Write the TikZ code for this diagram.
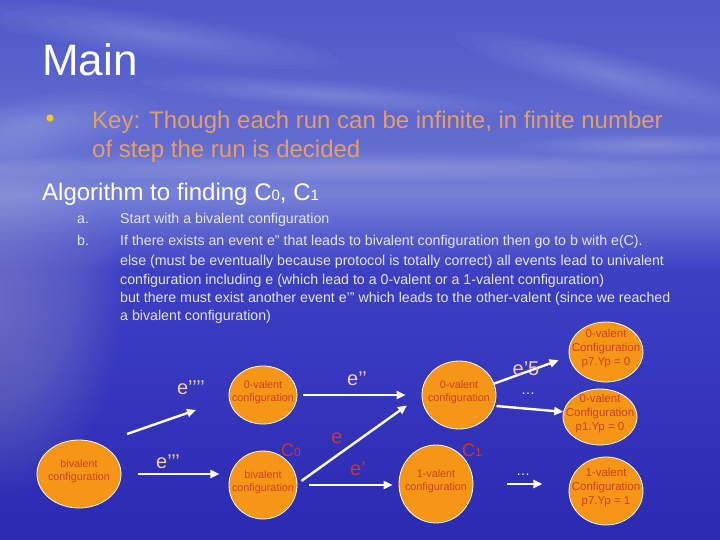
\documentclass[tikz,border=0pt]{standalone}
\usepackage{fontspec}
\setmainfont{Liberation Sans}
\usetikzlibrary{shapes.geometric,arrows.meta}

\definecolor{skytop}{RGB}{78,88,200}
\definecolor{skymid}{RGB}{98,108,208}
\definecolor{haze}{RGB}{118,128,214}
\definecolor{seamid}{RGB}{62,64,196}
\definecolor{seabot}{RGB}{42,42,178}
\definecolor{keytxt}{RGB}{228,158,105}
\definecolor{evtxt}{RGB}{240,205,180}
\definecolor{redtxt}{RGB}{200,55,50}
\definecolor{cfgfill}{RGB}{246,150,22}
\definecolor{cfgtxt}{RGB}{205,65,30}
\definecolor{listtxt}{RGB}{228,228,242}
\definecolor{dotyel}{RGB}{240,200,40}

\pgfdeclareverticalshading{skysea}{100bp}{color(0bp)=(seabot); color(25bp)=(seabot);
  color(50bp)=(seamid); color(57bp)=(haze); color(62bp)=(skymid); color(75bp)=(skytop); color(100bp)=(skytop)}

\newcommand{\inell}[1]{\smash{\makebox[0pt]{\begin{tabular}{@{}c@{}}#1\end{tabular}}}}

\tikzset{
  cfg/.style={ellipse, draw=white, line width=0.8pt, fill=cfgfill, text=cfgtxt, inner sep=0pt,
    font=\fontsize{10.8}{13.5}\selectfont},
  cfgbig/.style={cfg, font=\fontsize{11.5}{14}\selectfont},
  arr/.style={->, >={Triangle[length=9pt,width=8pt]}, draw=white, line width=2.4pt},
  evlab/.style={text=evtxt, font=\fontsize{20}{20}\selectfont, inner sep=0pt},
  redlab/.style={text=redtxt, font=\fontsize{20}{20}\selectfont, inner sep=0pt},
  dotlab/.style={text=white, font=\fontsize{14}{14}\selectfont, inner sep=0pt},
  listline/.style={anchor=base west, text=listtxt, inner sep=0pt, font=\fontsize{14.2}{16}\selectfont},
  keyline/.style={anchor=base west, text=keytxt, inner sep=0pt, font=\fontsize{24}{24}\selectfont},
}

\begin{document}
\begin{tikzpicture}[x=1pt,y=-1pt]
  \useasboundingbox (0,0) rectangle (720,540);
  \shade[shading=skysea] (0,0) rectangle (720,540); % 背景
  % 云
  \foreach \cx/\cy/\rx/\ry/\rot in {150/35/190/22/-8, 40/125/120/30/8, 330/95/190/14/-4,
      610/75/160/22/-14, 650/145/130/12/0, 360/168/420/14/0}
    \foreach \k in {1,...,9}
      \fill[white,opacity=0.022,rotate around={\rot:(\cx,\cy)}] (\cx,\cy) ellipse ({\rx*\k/9} and {\ry*\k/9});
  \foreach \r in {4,8,...,132}
    \fill[white,opacity=0.012] (-10,300) ellipse ({\r} and {\r*1.5}); % 左侧亮光

  % 标题
  \node[anchor=base west, text=white, inner sep=0pt, font=\fontsize{44}{44}\selectfont] (title) at (42,76) {Main};
  \fill[dotyel] (50,118) circle (3.6pt);
  \node[keyline] (key1) at (92,129) {Key: Though each run can be infinite, in finite number};
  \node[keyline] (key2) at (92,158) {of step the run is decided};
  \node[anchor=base west, text=white, inner sep=0pt, font=\fontsize{24}{24}\selectfont] (algo) at (42,201)
    {Algorithm to finding C{\fontsize{15}{15}\selectfont 0}, C{\fontsize{15}{15}\selectfont 1}};

  % 列表
  \node[listline] (ia) at (77,224) {a.};
  \node[listline] (ib) at (77,245) {b.};
  \node[listline] (l1) at (120,224) {Start with a bivalent configuration};
  \node[listline] (l2) at (120,245) {If there exists an event e” that leads to bivalent configuration then go to b with e(C).};
  \node[listline] (l3) at (120,265) {else (must be eventually because protocol is totally correct) all events lead to univalent};
  \node[listline] (l4) at (120,284) {configuration including e (which lead to a 0-valent or a 1-valent configuration)};
  \node[listline] (l5) at (120,302) {but there must exist another event e’” which leads to the other-valent (since we reached};
  \node[listline] (l6) at (120,320) {a bivalent configuration)};

  % 配置
  \node[cfg, minimum width=84pt, minimum height=68pt] (bivL) at (79,474) {\inell{bivalent\\configuration}};
  \node[cfg, minimum width=68pt, minimum height=58pt] (zvA) at (263,395) {\inell{0-valent\\configuration}};
  \node[cfg, minimum width=68pt, minimum height=68pt] (c0) at (263,485) {\inell{bivalent\\configuration}};
  \node[cfg, minimum width=74pt, minimum height=68pt] (zvB) at (459,395) {\inell{0-valent\\configuration}};
  \node[cfg, minimum width=74pt, minimum height=78pt] (onev) at (436,484) {\inell{1-valent\\configuration}};
  \node[cfgbig, minimum width=74pt, minimum height=60pt] (zvP7) at (606,352) {\inell{0-valent\\Configuration\\p7.Yp = 0}};
  \node[cfgbig, minimum width=74pt, minimum height=56pt] (zvP1) at (600,417) {\inell{0-valent\\Configuration\\p1.Yp = 0}};
  \node[cfgbig, minimum width=74pt, minimum height=68pt] (onevP7) at (606,491) {\inell{1-valent\\Configuration\\p7.Yp = 1}};

  % 箭头
  \coordinate (t4a) at (127,434);
  \coordinate (t4b) at (196,410);
  \draw[arr] (t4a) -- (t4b);
  \draw[arr] ([xshift=17pt]bivL.east) -- ([xshift=98pt]bivL.east);
  \draw[arr, shorten <=6pt, shorten >=16pt] (zvA.east) -- (zvB.west);
  \draw[arr, shorten <=5pt, shorten >=18pt] (c0.2) -- (zvB.180);
  \draw[arr, shorten <=12pt, shorten >=6pt] (c0.east) -- (c0.east -| onev.west);
  \draw[arr, shorten >=11pt] (zvB.18) -- (zvP7.187);
  \draw[arr, shorten <=2pt] (zvB.343) -- (zvP1.172);
  \draw[arr] ([xshift=34pt]onev.east) -- ([xshift=69pt]onev.east);

  % 标签
  \node[evlab] (lb4) at (191,388) {e’’’’};
  \node[evlab] (lb3) at (168,462) {e’’’};
  \node[evlab] (lb2) at (357,379) {e’’};
  \node[redlab] (lb1) at (337,438) {e};
  \node[redlab] (lb1p) at (358,469) {e’};
  \node[evlab] (lb5) at (526,369) {e’5};
  \node[dotlab] (dt1) at (528,394) {\ldots};
  \node[dotlab] (dt2) at (523,475) {\ldots};
  \node[redlab, font=\fontsize{18}{18}\selectfont] (cz) at (291,450) {C{\fontsize{12}{12}\selectfont 0}};
  \node[redlab, font=\fontsize{18}{18}\selectfont] (co) at (472,450) {C{\fontsize{12}{12}\selectfont 1}};
\end{tikzpicture}
\end{document}
